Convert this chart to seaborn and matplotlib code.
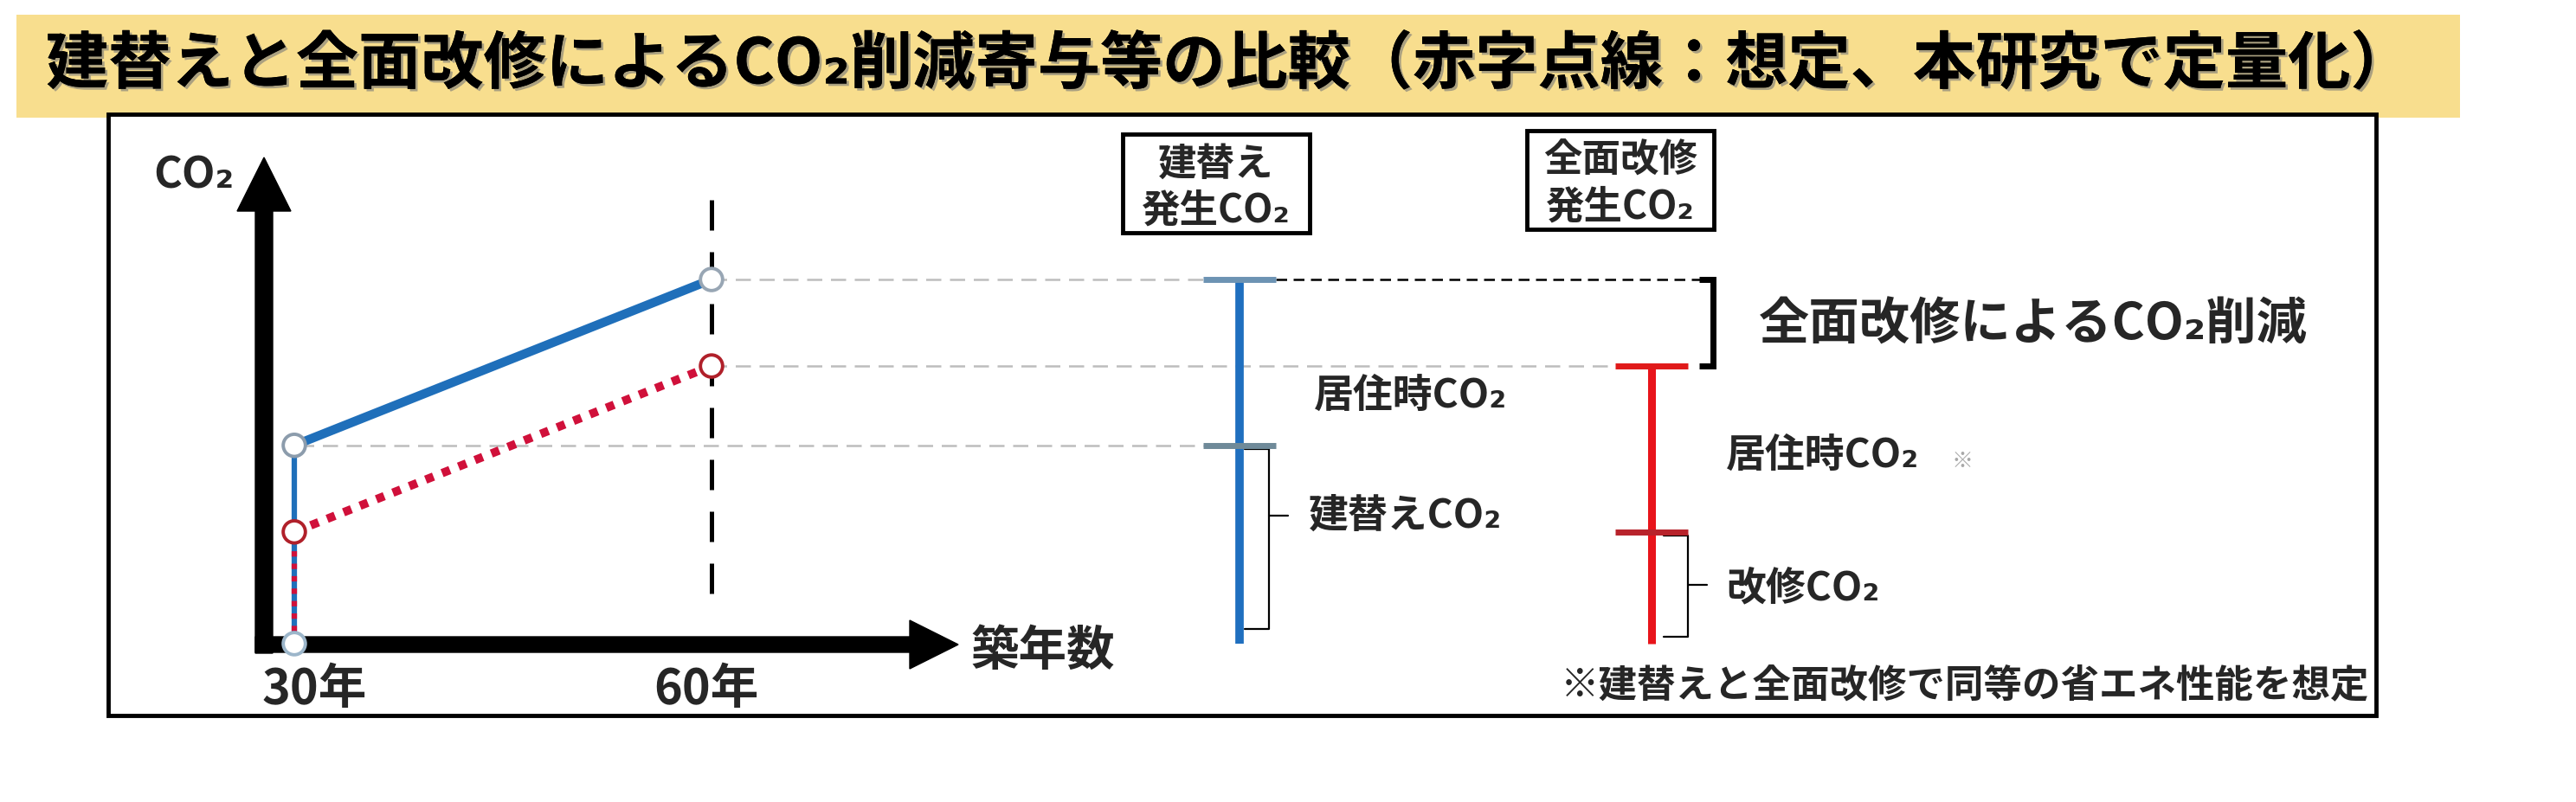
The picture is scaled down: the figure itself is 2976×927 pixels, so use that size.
import numpy as np
import pandas as pd
import seaborn as sns
import matplotlib.pyplot as plt
import matplotlib.patheffects as pe
from matplotlib.patches import Rectangle, FancyArrow

# --- data (CO2 in arbitrary units) ---
years = [30, 60]
cases = ['建替え', '全面改修']
embodied_co2 = [55, 31]      # 建替えCO2 / 改修CO2
living_co2 = [46, 46]        # 居住時CO2 (30 -> 60 years)
year_labels = ['30年', '60年']

title = '建替えと全面改修によるCO₂削減寄与等の比較（赤字点線：想定、本研究で定量化）'

sns.set_theme(style='white')
plt.rcParams['font.family'] = ['Noto Sans CJK JP', 'DejaVu Sans']

W, H = 2976, 928
fig = plt.figure(figsize=(W / 100, H / 100), dpi=100)

# pixel scale of the drawing
y0_px, per_unit = 745, 4.168
x30_px, per_year = 340, 16.067
bar_px = [1432, 1908]


def py(v):
    return y0_px - v * per_unit


# decoration layer in pixel coords
deco = fig.add_axes([0, 0, 1, 1])
deco.set_xlim(0, W)
deco.set_ylim(H, 0)
deco.axis('off')
deco.add_patch(Rectangle((19, 18), 2823, 119, facecolor='#F8DE8E', edgecolor='none'))
deco.add_patch(Rectangle((125, 133), 2620, 695, facecolor='white', edgecolor='black', lw=3.5))
deco.text(53, 76, title, fontsize=52, fontweight='bold', va='center', ha='left', color='black',
          path_effects=[pe.withSimplePatchShadow(offset=(2, -2), shadow_rgbFace='#777777', alpha=0.6), pe.Normal()])

# axis arrows
deco.add_patch(FancyArrow(305, 756, 0, -573, width=20, head_width=62, head_length=62,
                          length_includes_head=True, color='black', zorder=3))
deco.add_patch(FancyArrow(295, 746, 812, 0, width=18, head_width=56, head_length=56,
                          length_includes_head=True, color='black', zorder=3))
deco.text(224, 203, 'CO₂', fontsize=36, fontweight='bold', ha='center', va='center')
deco.text(1205, 753, '築年数', fontsize=40, fontweight='bold', ha='center', va='center')
for x_px, label in zip([363, 816], year_labels):
    deco.text(x_px, 797, label, fontsize=40, fontweight='bold', ha='center', va='center')

# boxes above the bars
for cx, top, name in [(1405, 156, cases[0]), (1872, 152, cases[1])]:
    deco.add_patch(Rectangle((cx - 108, top), 216, 114, facecolor='white', edgecolor='black', lw=3.5))
    deco.text(cx, top + 34, name, fontsize=32, fontweight='bold', ha='center', va='center')
    deco.text(cx, top + 88, '発生CO₂', fontsize=32, fontweight='bold', ha='center', va='center')

# --- data layer: years on x ---
ax = fig.add_axes([0, 0, 1, 1])
ax.patch.set_alpha(0)
ax.set_xlim(30 - x30_px / per_year, 30 + (W - x30_px) / per_year)
ax.set_ylim(-(H - y0_px) / per_unit, y0_px / per_unit)
ax.axis('off')

totals = [[e, e + l] for e, l in zip(embodied_co2, living_co2)]
df = pd.DataFrame({'year': years * 2,
                   'co2': totals[0] + totals[1],
                   'case': [cases[0]] * 2 + [cases[1]] * 2})

blue, red = '#1F6FBA', '#D0103A'
ax.vlines(years[1], 0.75, 0.25, transform=ax.get_xaxis_transform(), color='black', lw=3.6,
          linestyles=(0, (7, 5)), zorder=1)

# vertical jump at 30 years
sns.lineplot(x=[years[0]] * 2, y=[0, embodied_co2[0]], color=blue, lw=4.5, ax=ax, zorder=2,
             estimator=None, sort=False)
sns.lineplot(x=[years[0]] * 2, y=[0, embodied_co2[1]], color=red, lw=4.5, ax=ax, zorder=3,
             estimator=None, sort=False, linestyle=(0, (1, 1.3)), dash_capstyle='butt')
sns.lineplot(data=df[df.case == cases[0]], x='year', y='co2', color=blue, lw=7.5, ax=ax, zorder=2)
sns.lineplot(data=df[df.case == cases[1]], x='year', y='co2', color=red, lw=7, ax=ax, zorder=3,
             linestyle=(0, (1, 1.1)), dash_capstyle='butt')

# guide lines
gray = '#BDBDBD'
yt = ax.get_yaxis_transform()
ax.plot([822 / W, 1390 / W], [totals[0][1]] * 2, transform=yt, color=gray, lw=1.8, ls=(0, (7, 4)), zorder=1)
ax.plot([1474 / W, 1965 / W], [totals[0][1]] * 2, transform=yt, color='black', lw=1.8, ls=(0, (5, 3)), zorder=1)
ax.plot([822 / W, 1866 / W], [totals[1][1]] * 2, transform=yt, color=gray, lw=1.8, ls=(0, (7, 4)), zorder=1)
ax.plot([345 / W, 1392 / W], [totals[0][0]] * 2, transform=yt, color=gray, lw=1.8, ls=(0, (7, 4)), zorder=1)

# open circles
pts = pd.DataFrame({'year': [years[0], years[0], years[1], years[0], years[1]],
                    'co2': [0, totals[0][0], totals[0][1], totals[1][0], totals[1][1]]})
edges = ['#9CB6CA', '#8C9CAC', '#98A6B4', '#B0202A', '#B0202A']
ax.scatter(pts.year, pts.co2, s=340, facecolor='white', edgecolor=edges, linewidth=2.8, zorder=6)

# --- data layer: bars ---
ax2 = fig.add_axes([0, 0, 1, 1])
ax2.patch.set_alpha(0)
span = bar_px[1] - bar_px[0]
ax2.set_xlim(-bar_px[0] / span, (W - bar_px[0]) / span)
ax2.set_ylim(ax.get_ylim())
ax2.axis('off')

bar_cols = ['#1F6FBF', '#E8141B']
top_caps = ['#6C93B3', '#E01A1A']
mid_caps = ['#6F8A99', '#B8232B']
cap = 42 / span
for i in range(2):
    ax2.vlines(i, 0, totals[i][1], color=bar_cols[i], lw=7 if i == 0 else 6.5, zorder=3)
    ax2.hlines(totals[i][1], i - cap, i + cap, color=top_caps[i], lw=5, zorder=4)
    ax2.hlines(totals[i][0], i - cap, i + cap, color=mid_caps[i], lw=5, zorder=4)

# braces and bracket (pixel layer)
for bx, top, bot, tick_y in [(1438, totals[0][0], 4, 597), (1922, totals[1][0], 2, 677)]:
    deco.plot([bx, bx + 28, bx + 28, bx], [py(top) + 4, py(top) + 4, py(bot), py(bot)],
              color='black', lw=1.6, zorder=5)
    deco.plot([bx + 28, bx + 50], [tick_y, tick_y], color='black', lw=1.6, zorder=5)
deco.plot([1963, 1979, 1979, 1963], [py(totals[0][1]), py(totals[0][1]), py(totals[1][1]), py(totals[1][1])],
          color='black', lw=5, solid_joinstyle='miter', solid_capstyle='butt', zorder=5)

deco.text(2032, 376, '全面改修によるCO₂削減', fontsize=42, fontweight='bold', ha='left', va='center')
deco.text(1518, 458, '居住時CO₂', fontsize=33, fontweight='bold', ha='left', va='center')
deco.text(1512, 597, '建替えCO₂', fontsize=33, fontweight='bold', ha='left', va='center')
deco.text(1994, 527, '居住時CO₂', fontsize=33, fontweight='bold', ha='left', va='center')
deco.text(2267, 533, '※', fontsize=18, color='#A8A8A8', ha='center', va='center')
deco.text(1994, 680, '改修CO₂', fontsize=33, fontweight='bold', ha='left', va='center')
deco.text(1803, 792, '※建替えと全面改修で同等の省エネ性能を想定', fontsize=32, fontweight='bold',
          ha='left', va='center')

fig.savefig('out.png', dpi=100, facecolor='white')
